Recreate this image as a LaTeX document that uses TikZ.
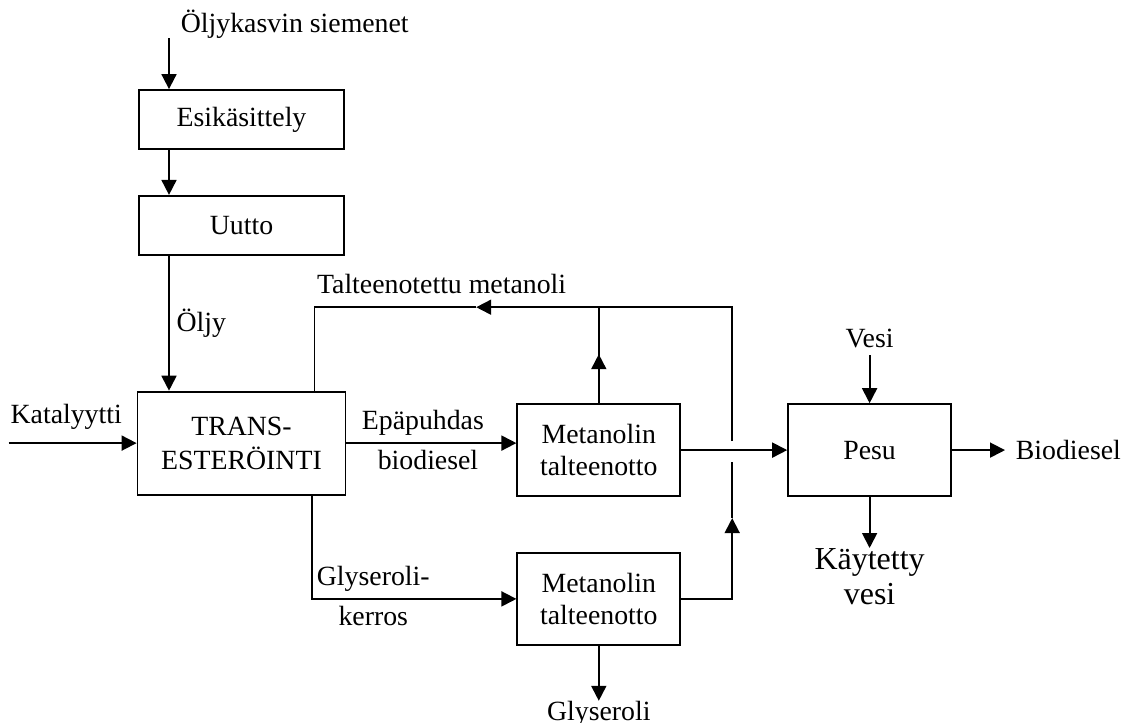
\documentclass[tikz,border=0pt]{standalone}
\usepackage{fontspec}
\setmainfont{Liberation Serif}
\usetikzlibrary{arrows.meta,positioning}
\tikzstyle{input} = [coordinate]
\tikzstyle{block} = [rectangle, draw, align=center, minimum width=81.5pt, minimum height=46pt]
\tikzstyle{wideblock} = [rectangle, draw, align=center, minimum width=102.5pt, minimum height=29.5pt]
\tikzstyle{bigblock} = [rectangle, draw, align=center, minimum width=104pt, minimum height=51.5pt, font=\fontsize{13.9}{17}\selectfont]
\tikzstyle{endtext} = [inner sep=0pt]

\begin{document}
\begin{tikzpicture}[node distance=22.5pt and 85pt, line width=0.9pt, >={Triangle[length=7.5pt,width=7.5pt]}, font=\fontsize{13.9}{16}\selectfont]
            \useasboundingbox (0,0) rectangle (564pt,-361pt);
            \node [wideblock] (esi) at (120.75pt,-59.75pt) {Esikäsittely};
            \node [wideblock, below=of esi] (uutto) {Uutto};
            \node [bigblock, below=67.5pt of uutto] (trans) {TRANS-\\ESTERÖINTI};
            \node [block, right=of trans, yshift=-3.5pt] (met1) {Metanolin\\talteenotto};
            \node [block, below=27.5pt of met1] (met2) {Metanolin\\talteenotto};
            \node [block, right=53pt of met1] (pesu) {Pesu};

            \node [input, above=25.5pt of esi.north, xshift=-36.25pt] (seed) {};
            \node [anchor=base west, inner sep=0pt, xshift=5.5pt, yshift=3pt] (seedtext) at (seed) {Öljykasvin siemenet};
            \node [input, left=64pt of trans.west] (cat) {};
            \node [above=23pt of pesu, yshift=1pt] (vesi) {Vesi};
            \node [right=26.5pt of pesu, inner xsep=5pt] (bio) {Biodiesel};
            \node [endtext, below=25.5pt of pesu, font=\fontsize{16}{17.5}\selectfont, align=center] (used) {Käytetty\\vesi};
            \node [endtext, below=27.5pt of met2] (gly) {Glyseroli};
            \node [input, above=48pt of met1.north east, xshift=25.5pt] (rtop) {};
            \node [input] (cross) at (rtop |- met1.east) {};

            \draw[->](seed) -- ([xshift=-36.25pt]esi.north);
            \draw[->]([xshift=-36.25pt]esi.south) -- ([xshift=-36.25pt]uutto.north);
            \draw[->]([xshift=-36.25pt]uutto.south) -- node[right]{Öljy}([xshift=-36.25pt]trans.north);
            \draw[->](cat) -- node[above, pos=0.45, yshift=3pt]{Katalyytti}(trans);

            \draw[->](trans.east) -- node[above, pos=0.45]{Epäpuhdas}node[below, pos=0.48]{biodiesel}(trans.east -| met1.west);
            \draw[->]([xshift=-17.25pt]trans.south east) |- node[above, pos=0.65]{Glyseroli-}node[below, pos=0.65]{kerros}(met2.west);

            \draw[->](met1) -- (pesu);
            \draw[->](vesi) -- (pesu);
            \draw[->](pesu) -- (bio);
            \draw[->](pesu) -- (used);
            \draw[->](met2) -- (gly);

            \draw(met1) -- (met1 |- rtop);
            \draw[->](met1.north) -- ++(0,24.5pt);
            \draw[->](met2.east) -| ([yshift=-34pt]cross);
            \draw([yshift=-34pt]cross) -- ([yshift=-6pt]cross);
            \draw[->]([yshift=4.5pt]cross) -- (rtop) -- ++(-128pt,0);
            \draw([xshift=-128pt]rtop) -| ([xshift=-16pt]trans.north east);
            \node [anchor=base west, inner sep=0pt] (recycled) at ([xshift=-208pt, yshift=6.75pt]rtop) {Talteenotettu metanoli};
        \end{tikzpicture}
\end{document}
